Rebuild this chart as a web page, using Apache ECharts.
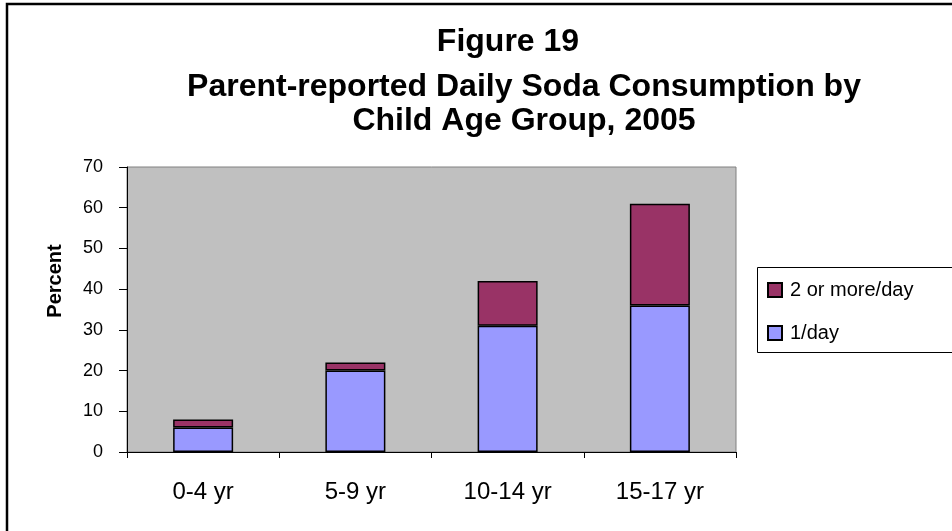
<!DOCTYPE html>
<html>
<head>
<meta charset="utf-8">
<script src="https://cdn.jsdelivr.net/npm/echarts@6/dist/echarts.min.js"></script>
<style>
html,body{margin:0;padding:0;background:#fff;}
#chart{width:952px;height:531px;}
</style>
</head>
<body>
<div id="chart"></div>
<script>
var categories = ['0-4 yr', '5-9 yr', '10-14 yr', '15-17 yr'];
var oneDay = [6, 20, 31, 36];
var twoOrMore = [2, 2, 11, 25];
var yTicks = [0, 10, 20, 30, 40, 50, 60, 70];
var titleLines = ['Figure 19', 'Parent-reported Daily Soda Consumption by', 'Child Age Group, 2005'];
var yAxisTitle = 'Percent';

var chart = echarts.init(document.getElementById('chart'), null, {renderer: 'canvas'});
var F = 'Arial, "Liberation Sans", sans-serif';
var option = {
  backgroundColor: '#ffffff',
  animation: false,
  graphic: [
    {type: 'rect', shape: {x: 7, y: 4, width: 2000, height: 2000}, style: {fill: 'none', stroke: '#000', lineWidth: 2.5}, silent: true},
    {type: 'rect', shape: {x: 757.5, y: 267.5, width: 400, height: 85}, style: {fill: 'none', stroke: '#000', lineWidth: 1}, silent: true},
    {type: 'text', x: 508, y: 42, style: {text: titleLines[0], font: 'bold 32px ' + F, fill: '#000', textAlign: 'center', textVerticalAlign: 'middle'}},
    {type: 'text', x: 524, y: 87, style: {text: titleLines[1], font: 'bold 32px ' + F, fill: '#000', textAlign: 'center', textVerticalAlign: 'middle'}},
    {type: 'text', x: 524, y: 121, style: {text: titleLines[2], font: 'bold 32px ' + F, fill: '#000', textAlign: 'center', textVerticalAlign: 'middle'}},
    {type: 'text', x: 55, y: 281, rotation: Math.PI / 2, style: {text: yAxisTitle, font: 'bold 20px ' + F, fill: '#000', textAlign: 'center', textVerticalAlign: 'middle'}}
  ],
  legend: {
    orient: 'vertical',
    left: 767,
    top: 280,
    padding: 0,
    itemGap: 23,
    itemWidth: 14,
    itemHeight: 14,
    icon: 'rect',
    data: ['2 or more/day', '1/day'],
    textStyle: {fontFamily: F, fontSize: 20, color: '#000', padding: [0, 0, 0, 3]}
  },
  grid: {
    left: 127, right: 216, top: 167, bottom: 79,
    show: true, backgroundColor: '#C0C0C0', borderColor: '#808080', borderWidth: 1
  },
  xAxis: {
    type: 'category',
    data: categories,
    axisLine: {lineStyle: {color: '#000', width: 1}},
    axisTick: {show: true, length: 6, lineStyle: {color: '#000'}},
    axisLabel: {fontFamily: F, fontSize: 24, color: '#000', margin: 28}
  },
  yAxis: {
    type: 'value',
    min: 0, max: 70, interval: 10,
    axisLine: {show: true, lineStyle: {color: '#000', width: 1}},
    axisTick: {show: true, length: 8, lineStyle: {color: '#000'}},
    splitLine: {show: false},
    axisLabel: {fontFamily: F, fontSize: 18, color: '#000', margin: 24,
      formatter: function (v) { return yTicks.indexOf(v) >= 0 ? String(v) : ''; }}
  },
  series: [
    {name: '1/day', type: 'bar', stack: 'total', data: oneDay, barWidth: 60,
      itemStyle: {color: '#9999FF', borderColor: '#000', borderWidth: 1.5}},
    {name: '2 or more/day', type: 'bar', stack: 'total', data: twoOrMore, barWidth: 60,
      itemStyle: {color: '#993366', borderColor: '#000', borderWidth: 1.5}}
  ]
};
chart.setOption(option);
</script>
</body>
</html>
